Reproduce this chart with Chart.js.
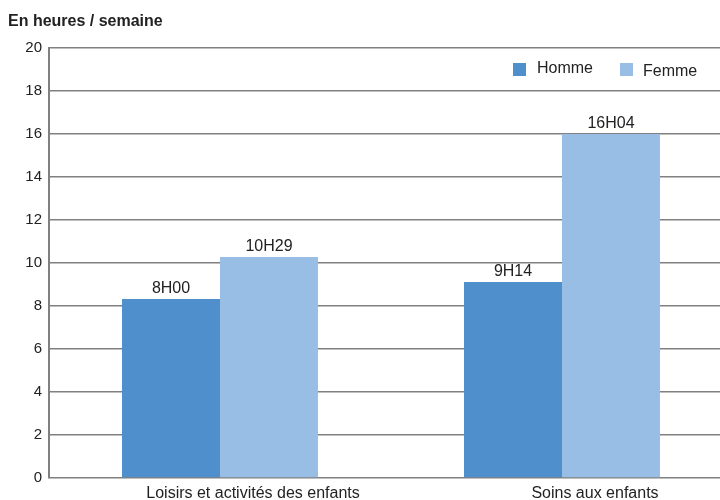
<!DOCTYPE html>
<html><head><meta charset="utf-8">
<script src="https://cdn.jsdelivr.net/npm/chart.js@4/dist/chart.umd.min.js"></script>
<style>
html,body{margin:0;padding:0;background:#fff;overflow:hidden;width:720px;height:500px}
#wrap{position:absolute;left:0;top:0;width:740px;height:500px}
</style></head><body>
<div id="wrap"><canvas id="c" width="740" height="500"></canvas></div>
<script>
const categories = ["Loisirs et activités des enfants", "Soins aux enfants"];
const seriesNames = ["Homme", "Femme"];
const hommeValues = [8.33, 9.12];
const femmeValues = [10.28, 16.0];
const hommeLabels = ["8H00", "9H14"];
const femmeLabels = ["10H29", "16H04"];
const yTicks = [0, 2, 4, 6, 8, 10, 12, 14, 16, 18, 20];
const colors = ["#4f8fcc", "#99bee5"];
const valueLabels = [hommeLabels, femmeLabels];
const FONT = "'Liberation Sans', Arial, sans-serif";

const overlay = {
  id: 'overlay',
  afterDatasetsDraw(chart) {
    const ctx = chart.ctx;
    ctx.save();
    ctx.fillStyle = '#222';
    ctx.font = '16px ' + FONT;
    ctx.textAlign = 'center';
    ctx.textBaseline = 'alphabetic';
    chart.data.datasets.forEach((ds, i) => {
      chart.getDatasetMeta(i).data.forEach((bar, j) => {
        ctx.fillText(valueLabels[i][j], bar.x, bar.y - 6);
      });
    });
    // title
    ctx.textAlign = 'left';
    ctx.font = 'bold 16px ' + FONT;
    ctx.fillText('En heures / semaine', 8, 26);
    // legend
    ctx.font = '16px ' + FONT;
    const legendPos = [[513, 537, 73], [620, 643, 76]];
    chart.data.datasets.forEach((ds, i) => {
      const p = legendPos[i];
      ctx.fillStyle = ds.backgroundColor;
      ctx.fillRect(p[0], 63, 13, 13);
      ctx.fillStyle = '#222';
      ctx.fillText(ds.label, p[1], p[2]);
    });
    ctx.restore();
  }
};

new Chart(document.getElementById('c'), {
  type: 'bar',
  data: {
    labels: categories,
    datasets: [
      { label: seriesNames[0], data: hommeValues, backgroundColor: colors[0] },
      { label: seriesNames[1], data: femmeValues, backgroundColor: colors[1] }
    ]
  },
  options: {
    responsive: false,
    animation: false,
    devicePixelRatio: 1,
    layout: { padding: { top: 48, right: 7, left: 0, bottom: 0 } },
    datasets: { bar: { barPercentage: 1, categoryPercentage: 0.573 } },
    plugins: { legend: { display: false }, tooltip: { enabled: false }, title: { display: false } },
    scales: {
      x: {
        afterFit(scale) { scale.height = 22; },
        grid: { display: false, drawTicks: false },
        border: { display: false },
        ticks: { color: '#222', font: { family: FONT, size: 16 }, padding: 6, labelOffset: 33, maxRotation: 0 }
      },
      y: {
        min: 0, max: 20,
        afterBuildTicks(scale) { scale.ticks = yTicks.map(v => ({ value: v })); },
        afterFit(scale) { scale.width = 49; },
        grid: { color: '#808080', lineWidth: 1.6, drawTicks: false },
        border: { color: '#808080', width: 2 },
        ticks: { color: '#222', font: { family: FONT, size: 15 }, padding: 7 }
      }
    }
  },
  plugins: [overlay]
});
</script>
</body></html>
